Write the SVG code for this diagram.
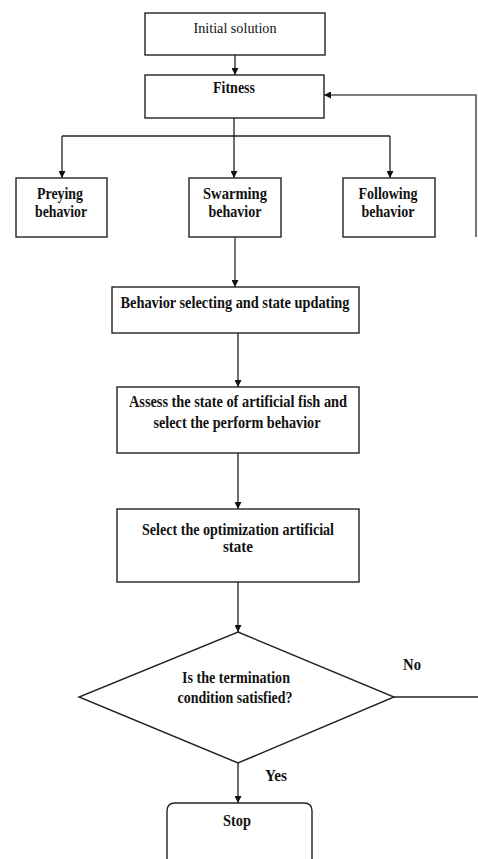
<svg xmlns="http://www.w3.org/2000/svg" width="478" height="859" viewBox="0 0 478 859">
<style>
.box{fill:#fff;stroke:#222;stroke-width:1.4}
.ln{fill:none;stroke:#222;stroke-width:1.3}
.gr{fill:none;stroke:#555;stroke-width:1.6}
text{font-family:"Liberation Serif","Times New Roman",serif;font-size:16px;font-weight:bold;fill:#111;text-anchor:middle}
.reg{font-weight:normal;font-size:15px}
</style>
<defs>
<marker id="ah" viewBox="0 0 10 10" refX="10" refY="5" markerWidth="7" markerHeight="7" markerUnits="userSpaceOnUse" orient="auto">
<path d="M0,0 L10,5 L0,10 z" fill="#111"/>
</marker>
</defs>
<rect width="478" height="859" fill="#fff"/>
<g id="connectors">
<line class="ln" x1="235" y1="55" x2="235" y2="75" marker-end="url(#ah)"/>
<line class="ln" x1="234" y1="118" x2="234" y2="136"/>
<line class="ln" x1="62" y1="136" x2="390" y2="136"/>
<line class="ln" x1="62" y1="136" x2="62" y2="178" marker-end="url(#ah)"/>
<line class="ln" x1="234" y1="136" x2="234" y2="178" marker-end="url(#ah)"/>
<line class="ln" x1="390" y1="136" x2="390" y2="178" marker-end="url(#ah)"/>
<line class="gr" x1="235" y1="237" x2="235" y2="287" marker-end="url(#ah)"/>
<line class="ln" x1="238" y1="333" x2="238" y2="387" marker-end="url(#ah)"/>
<line class="ln" x1="238" y1="453" x2="238" y2="509" marker-end="url(#ah)"/>
<line class="ln" x1="238" y1="582" x2="238" y2="632" marker-end="url(#ah)"/>
<line class="ln" x1="238" y1="763" x2="238" y2="803" marker-end="url(#ah)"/>
<line class="ln" x1="394" y1="697" x2="478" y2="697"/>
<polyline class="gr" points="476,237 476,95 324,95" marker-end="url(#ah)"/>
<text x="412" y="670" textLength="18" lengthAdjust="spacingAndGlyphs">No</text>
<text x="276" y="781" textLength="22" lengthAdjust="spacingAndGlyphs">Yes</text>
</g>
<g id="initial">
<rect class="box" x="145" y="13" width="180" height="42"/>
<text class="reg" x="235" y="33" textLength="83" lengthAdjust="spacingAndGlyphs">Initial solution</text>
</g>
<g id="fitness">
<rect class="box" x="145" y="75" width="179" height="43"/>
<text x="234" y="93" textLength="42" lengthAdjust="spacingAndGlyphs">Fitness</text>
</g>
<g id="preying">
<rect class="box" x="16" y="178" width="91" height="59"/>
<text x="60" y="199" textLength="46" lengthAdjust="spacingAndGlyphs">Preying</text>
<text x="61" y="217" textLength="52" lengthAdjust="spacingAndGlyphs">behavior</text>
</g>
<g id="swarming">
<rect class="box" x="189" y="178" width="92" height="59"/>
<text x="235" y="199" textLength="64" lengthAdjust="spacingAndGlyphs">Swarming</text>
<text x="235" y="217" textLength="53" lengthAdjust="spacingAndGlyphs">behavior</text>
</g>
<g id="following">
<rect class="box" x="343" y="178" width="92" height="59"/>
<text x="388" y="199" textLength="59" lengthAdjust="spacingAndGlyphs">Following</text>
<text x="388" y="217" textLength="53" lengthAdjust="spacingAndGlyphs">behavior</text>
</g>
<g id="behavior">
<rect class="box" x="112" y="287" width="247" height="46"/>
<text x="235" y="308" textLength="229" lengthAdjust="spacingAndGlyphs">Behavior selecting and state updating</text>
</g>
<g id="assess">
<rect class="box" x="117" y="387" width="242" height="66"/>
<text x="238" y="407" textLength="218" lengthAdjust="spacingAndGlyphs">Assess the state of artificial fish and</text>
<text x="237" y="428" textLength="167" lengthAdjust="spacingAndGlyphs">select the perform behavior</text>
</g>
<g id="select">
<rect class="box" x="117" y="509" width="242" height="73"/>
<text x="238" y="535" textLength="192" lengthAdjust="spacingAndGlyphs">Select the optimization artificial</text>
<text x="238" y="552" textLength="30" lengthAdjust="spacingAndGlyphs">state</text>
</g>
<g id="decision">
<polygon class="box" points="238,632 394,697 238,763 79,697"/>
<text x="236" y="683" textLength="108" lengthAdjust="spacingAndGlyphs">Is the termination</text>
<text x="235" y="703" textLength="115" lengthAdjust="spacingAndGlyphs">condition satisfied?</text>
</g>
<g id="stop">
<path class="box" d="M167,866 L167,811 Q167,803 175,803 L304,803 Q312,803 312,811 L312,866"/>
<text x="237" y="826" textLength="28" lengthAdjust="spacingAndGlyphs">Stop</text>
</g>
</svg>
